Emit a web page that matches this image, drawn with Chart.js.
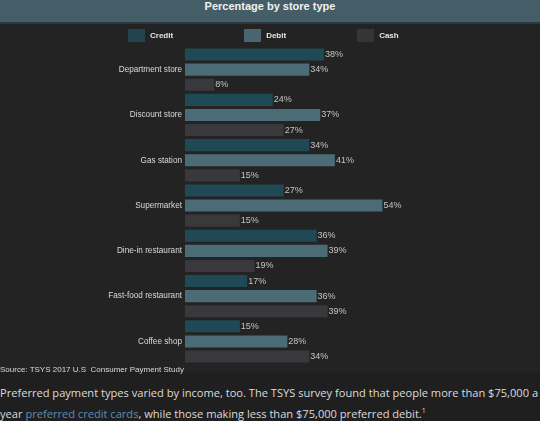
<!DOCTYPE html>
<html>
<head>
<meta charset="utf-8">
<script src="https://cdn.jsdelivr.net/npm/chart.js@4"></script>
<style>
  body { margin: 0; background: #1f1f1f; width: 540px; height: 421px; overflow: hidden; }
  .header {
    height: 24px; line-height: 18px; background: #455d66;
    border-bottom: 2px solid #2b3942; box-sizing: border-box;
    color: #eef2f3; font: bold 11px Arial, "Liberation Sans", sans-serif; text-align: center;
  }
  .chartBox { position: relative; width: 540px; height: 348px; background: #232323; }
  #legend { position: absolute; left: 128px; top: 5px; display: flex; gap: 71px; }
  .legendItem { display: flex; align-items: center; color: #e6e6e6; font: bold 8px Arial, "Liberation Sans", sans-serif; }
  .legendBox { width: 17px; height: 13px; margin-right: 5px; }
  .source { position: relative; margin-top: -8px; color: #d8d8d8; font: 8px Arial, "Liberation Sans", sans-serif; height: 12px; line-height: 12px; }
  .para { margin: 8px 0 0 0; color: #dcdcdc; font: 11.1px "Open Sans", sans-serif; line-height: 18px; width: 540px; }
  .para a { color: #5f8db3; text-decoration: none; }
  .para sup { font-size: 7px; }
</style>
</head>
<body>
<div class="header">Percentage by store type</div>
<div class="chartBox"><div id="legend"></div><canvas id="myChart"></canvas></div>
<div class="source">Source: TSYS 2017 U.S&nbsp; Consumer Payment Study</div>
<p class="para">Preferred payment types varied by income, too. The TSYS survey found that people more than $75,000 a year <a href="#">preferred credit cards</a>, while those making less than $75,000 preferred debit.<sup>1</sup></p>

<script>
// Store types (categories)
const storeTypes = [
  "Department store",
  "Discount store",
  "Gas station",
  "Supermarket",
  "Dine-in restaurant",
  "Fast-food restaurant",
  "Coffee shop"
];

// Percent of payments per store type
const creditValues = [38, 24, 34, 27, 36, 17, 15];
const debitValues = [34, 37, 41, 54, 39, 36, 28];
const cashValues = [8, 27, 15, 15, 19, 39, 34];

// Legend swatch colours (a bit different from the bars in the original)
const legendColors = ["#23444e", "#4a6570", "#343538"];

// Draw "NN%" just past the end of each bar
const valueLabels = {
  id: "valueLabels",
  afterDatasetsDraw(chart) {
    const ctx = chart.ctx;
    ctx.save();
    ctx.font = "9px Arial, 'Liberation Sans', sans-serif";
    ctx.fillStyle = "#c4c4c4";
    ctx.textBaseline = "middle";
    ctx.textAlign = "left";
    chart.data.datasets.forEach((ds, i) => {
      chart.getDatasetMeta(i).data.forEach((bar, j) => {
        ctx.fillText(ds.data[j] + "%", bar.x + 1, bar.y);
      });
    });
    ctx.restore();
  }
};

const myChart = new Chart("myChart", {
  type: "bar",
  data: {
    labels: storeTypes,
    datasets: [{
      label: "Credit",
      data: creditValues,
      backgroundColor: "#1f4a55"
    }, {
      label: "Debit",
      data: debitValues,
      backgroundColor: "#4b6c77"
    }, {
      label: "Cash",
      data: cashValues,
      backgroundColor: "#39393d"
    }]
  },
  options: {
    indexAxis: "y",
    maintainAspectRatio: false,
    animation: false,
    categoryPercentage: 1,
    barPercentage: 0.8,
    layout: { padding: { top: 23, right: 26, bottom: 0 } },
    scales: {
      x: {
        min: 0,
        max: 90,
        display: false
      },
      y: {
        grid: { display: false, drawTicks: false },
        border: { display: false },
        ticks: {
          color: "#dadada",
          padding: 3,
          font: { family: "Arial, 'Liberation Sans', sans-serif", size: 8.2 }
        },
        afterFit: (scale) => { scale.width = 185; }
      }
    },
    plugins: {
      legend: { display: false },
      tooltip: { enabled: false }
    }
  },
  plugins: [valueLabels]
});

// html legend built from the datasets
const buildLegend = () => {
  const legend = document.getElementById("legend");
  myChart.data.datasets.forEach((ds, i) => {
    const item = document.createElement("div");
    item.className = "legendItem";
    item.innerHTML = `<span class="legendBox" style="background:${legendColors[i]}"></span>${ds.label}`;
    legend.appendChild(item);
  });
};
buildLegend();
</script>
</body>
</html>
